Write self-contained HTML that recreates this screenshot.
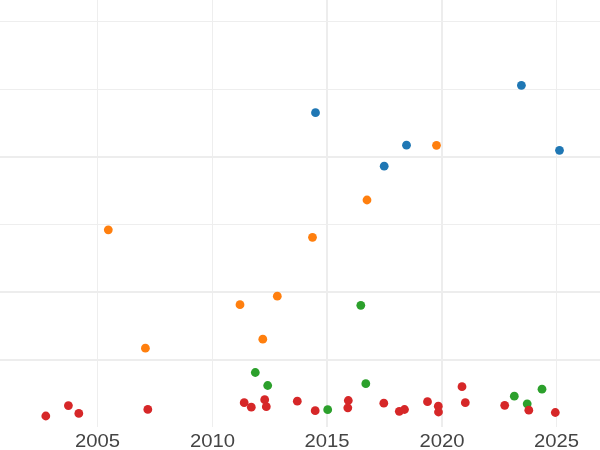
<!DOCTYPE html>
<html><head><meta charset="utf-8"><title>chart</title>
<style>
html,body{margin:0;padding:0;background:#fff;}
body{width:600px;height:450px;overflow:hidden;font-family:"Liberation Sans",sans-serif;}
svg{display:block;will-change:transform;}
text{font-family:"Liberation Sans",sans-serif;font-size:19.2px;fill:#444444;}
</style></head><body>
<svg width="600" height="450" viewBox="0 0 600 450">
<rect x="0" y="0" width="600" height="450" fill="#ffffff"/>
<g shape-rendering="crispEdges">
<rect x="97" y="0" width="1" height="427" fill="#eeeeee"/>
<rect x="212" y="0" width="1" height="427" fill="#eeeeee"/>
<rect x="326" y="0" width="2" height="427" fill="#ededed"/>
<rect x="441" y="0" width="2" height="427" fill="#ededed"/>
<rect x="556" y="0" width="1" height="427" fill="#eeeeee"/>
<rect x="0" y="21" width="600" height="1" fill="#eeeeee"/>
<rect x="0" y="89" width="600" height="1" fill="#eeeeee"/>
<rect x="0" y="156" width="600" height="2" fill="#ededed"/>
<rect x="0" y="224" width="600" height="1" fill="#eeeeee"/>
<rect x="0" y="291" width="600" height="2" fill="#ededed"/>
<rect x="0" y="359" width="600" height="2" fill="#ededed"/>
</g>
<g fill="#1f77b4">
<circle cx="315.5" cy="112.7" r="4.4"/>
<circle cx="384.2" cy="166.2" r="4.4"/>
<circle cx="406.5" cy="145.2" r="4.4"/>
<circle cx="521.4" cy="85.3" r="4.4"/>
<circle cx="559.5" cy="150.3" r="4.4"/>
</g>
<g fill="#ff7f0e">
<circle cx="108.3" cy="229.8" r="4.4"/>
<circle cx="145.4" cy="348.2" r="4.4"/>
<circle cx="240" cy="304.7" r="4.4"/>
<circle cx="262.8" cy="339.2" r="4.4"/>
<circle cx="277.3" cy="296.2" r="4.4"/>
<circle cx="312.5" cy="237.3" r="4.4"/>
<circle cx="367" cy="200" r="4.4"/>
<circle cx="436.5" cy="145.3" r="4.4"/>
</g>
<g fill="#2ca02c">
<circle cx="255.3" cy="372.5" r="4.4"/>
<circle cx="267.7" cy="385.5" r="4.4"/>
<circle cx="327.7" cy="409.7" r="4.4"/>
<circle cx="360.8" cy="305.3" r="4.4"/>
<circle cx="365.8" cy="383.7" r="4.4"/>
<circle cx="514.3" cy="396.2" r="4.4"/>
<circle cx="527.2" cy="403.8" r="4.4"/>
<circle cx="542" cy="389.2" r="4.4"/>
</g>
<g fill="#d62728">
<circle cx="45.8" cy="416" r="4.4"/>
<circle cx="68.4" cy="405.6" r="4.4"/>
<circle cx="78.8" cy="413.4" r="4.4"/>
<circle cx="147.8" cy="409.4" r="4.4"/>
<circle cx="244.2" cy="402.7" r="4.4"/>
<circle cx="251.3" cy="407.2" r="4.4"/>
<circle cx="264.7" cy="399.7" r="4.4"/>
<circle cx="266.3" cy="406.7" r="4.4"/>
<circle cx="297.3" cy="401.2" r="4.4"/>
<circle cx="315.2" cy="410.7" r="4.4"/>
<circle cx="348.3" cy="400.5" r="4.4"/>
<circle cx="347.8" cy="407.8" r="4.4"/>
<circle cx="383.8" cy="403.2" r="4.4"/>
<circle cx="399.3" cy="411.3" r="4.4"/>
<circle cx="404.5" cy="409.5" r="4.4"/>
<circle cx="427.5" cy="401.7" r="4.4"/>
<circle cx="438.3" cy="406.2" r="4.4"/>
<circle cx="438.5" cy="412" r="4.4"/>
<circle cx="462" cy="386.7" r="4.4"/>
<circle cx="465.3" cy="402.7" r="4.4"/>
<circle cx="504.7" cy="405.3" r="4.4"/>
<circle cx="528.8" cy="410.2" r="4.4"/>
<circle cx="555.3" cy="412.5" r="4.4"/>
</g>
<g text-anchor="middle" style="opacity:0.999">
<text x="97.5" y="447.1" textLength="45.1" lengthAdjust="spacingAndGlyphs">2005</text>
<text x="212.5" y="447.1" textLength="45.1" lengthAdjust="spacingAndGlyphs">2010</text>
<text x="327" y="447.1" textLength="45.1" lengthAdjust="spacingAndGlyphs">2015</text>
<text x="442" y="447.1" textLength="45.1" lengthAdjust="spacingAndGlyphs">2020</text>
<text x="556.5" y="447.1" textLength="45.1" lengthAdjust="spacingAndGlyphs">2025</text>
</g>
</svg>
</body></html>
